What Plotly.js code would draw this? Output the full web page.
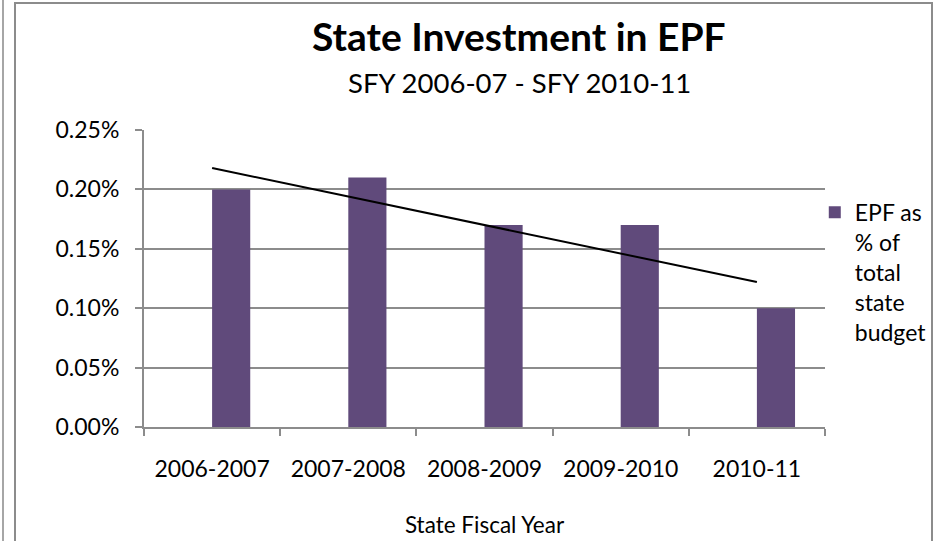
<!DOCTYPE html>
<html>
<head>
<meta charset="utf-8">
<script src="https://cdn.plot.ly/plotly-3.0.1.min.js"></script>
<style>
  html, body { margin: 0; padding: 0; overflow: hidden; background: #fff; }
  #chart { position: absolute; left: 0; top: 0; width: 935px; height: 541px; }
  #pageLine { position: absolute; left: 2px; top: 0; width: 2px; height: 541px; background: #a6a6a6; pointer-events: none; }
  #frame { position: absolute; left: 14px; top: 2px; width: 919px; height: 620px; border: 2px solid #8c8c8c; box-sizing: border-box; pointer-events: none; }
</style>
</head>
<body>
<div id="chart"></div>
<div id="pageLine"></div>
<div id="frame"></div>
<script>
// ---- data ----
const categories = ["2006-2007", "2007-2008", "2008-2009", "2009-2010", "2010-11"];
const epfShare = [0.0020, 0.0021, 0.0017, 0.0017, 0.0010];   // EPF as % of total state budget
const trendCategories = ["2006-2007", "2010-11"];           // linear trendline ends
const trendValues = [0.00218, 0.00122];
const seriesName = "EPF as<br>% of<br>total<br>state<br>budget";
const titleText = "State Investment in EPF";
const subtitleText = "SFY 2006-07 - SFY 2010-11";
const xTitleText = "State Fiscal Year";

const FONT = "Lato, 'Open Sans', sans-serif";
const GRID = "#8c8c8c";

const bars = {
  type: "bar",
  x: categories,
  y: epfShare,
  name: seriesName,
  marker: { color: "#604a7b" },
  offset: 0,
  width: 0.28,
  hoverinfo: "x+y"
};

const trend = {
  type: "scatter",
  mode: "lines",
  x: trendCategories,
  y: trendValues,
  line: { color: "#000000", width: 2 },
  showlegend: false,
  hoverinfo: "skip"
};

const layout = {
  width: 935,
  height: 541,
  margin: { l: 144, r: 110, t: 130, b: 114, pad: 0, autoexpand: false },
  paper_bgcolor: "#ffffff",
  plot_bgcolor: "#ffffff",
  font: { family: FONT, size: 23, color: "#000000" },
  showlegend: true,
  legend: {
    x: 0.985, xanchor: "left",
    y: 0.795, yanchor: "top",
    valign: "top",
    font: { family: FONT, size: 23, color: "#000000" },
    bgcolor: "rgba(0,0,0,0)",
    borderwidth: 0,
    tracegroupgap: 0
  },
  xaxis: {
    type: "category",
    showgrid: false,
    showline: true,
    linecolor: GRID,
    linewidth: 2,
    ticks: "outside",
    tickson: "boundaries",
    ticklen: 7,
    tickwidth: 2,
    tickcolor: GRID,
    ticklabelstandoff: 20,
    tickfont: { family: FONT, size: 23, color: "#000" },
    title: { text: xTitleText, font: { family: FONT, size: 22.5, color: "#000" }, standoff: 37 },
    range: [-0.5, 4.5],
    fixedrange: true
  },
  yaxis: {
    range: [0, 0.0025],
    dtick: 0.0005,
    tick0: 0,
    tickformat: ".2%",
    showgrid: true,
    gridcolor: GRID,
    gridwidth: 2,
    zeroline: false,
    showline: true,
    linecolor: GRID,
    linewidth: 2,
    ticks: "outside",
    ticklen: 7,
    tickwidth: 2,
    tickcolor: GRID,
    ticklabelstandoff: 11,
    tickfont: { family: FONT, size: 23, color: "#000" },
    fixedrange: true
  },
  annotations: [
    {
      text: "<b>" + titleText + "</b>",
      xref: "paper", yref: "paper",
      x: 0.5507, y: 1, xanchor: "center", yanchor: "middle",
      yshift: 94,
      showarrow: false,
      font: { family: FONT, size: 39, color: "#000" }
    },
    {
      text: subtitleText,
      xref: "paper", yref: "paper",
      x: 0.5507, y: 1, xanchor: "center", yanchor: "middle",
      yshift: 48,
      showarrow: false,
      font: { family: FONT, size: 27.5, color: "#000" }
    }
  ]
};

Plotly.newPlot("chart", [bars, trend], layout, { displayModeBar: false, staticPlot: true });
</script>
</body>
</html>
